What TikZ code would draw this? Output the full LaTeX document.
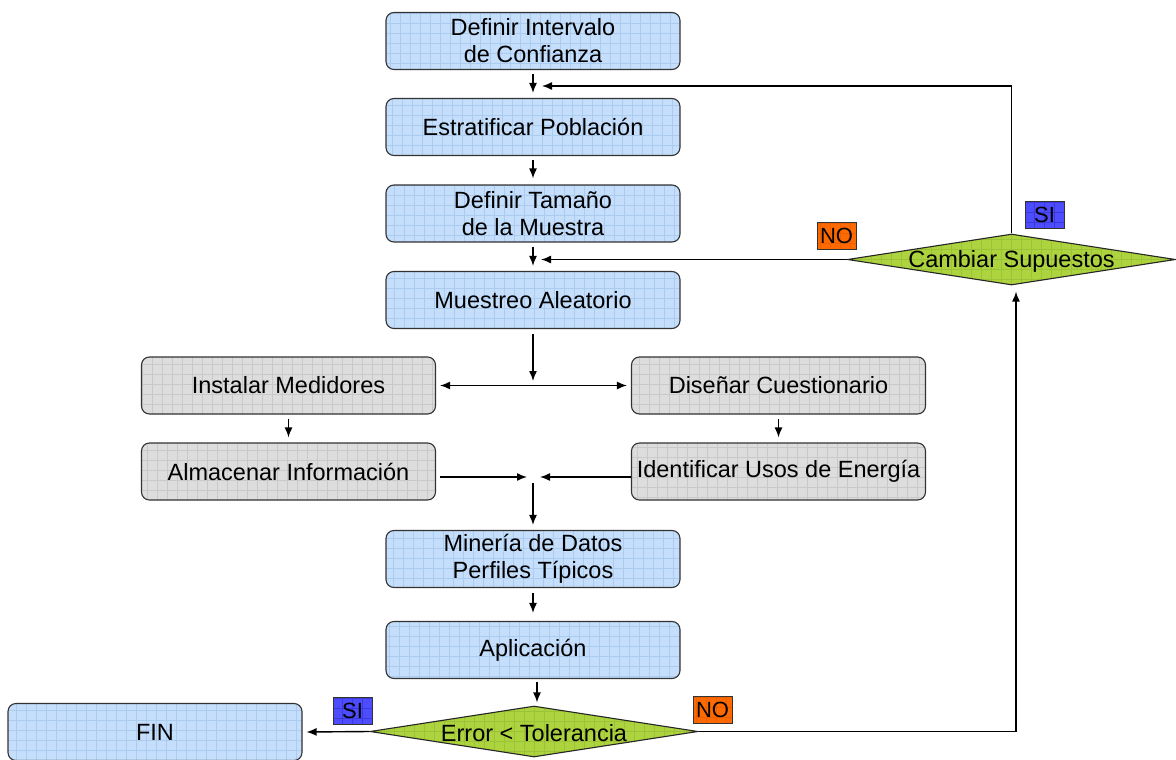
\documentclass[tikz,border=0pt]{standalone}
\usepackage{fontspec}
\setmainfont{Liberation Sans}
\usetikzlibrary{shapes.geometric,arrows.meta,calc}
\definecolor{boxblue}{HTML}{C4DEFB}
\definecolor{gridblue}{HTML}{ABCBEF}
\definecolor{boxgray}{HTML}{DDDDDD}
\definecolor{gridgray}{HTML}{C9C9C9}
\definecolor{boxgreen}{HTML}{ADD33E}
\definecolor{gridgreen}{HTML}{9CC238}
\definecolor{labblue}{HTML}{4D4DFF}
\definecolor{gridlabblue}{HTML}{3A3AD8}
\definecolor{laborange}{HTML}{FF6A00}
\definecolor{gridorange}{HTML}{EC6000}
\newcommand{\mainfs}{\fontsize{23.5}{27}\selectfont}
\tikzset{
  gridfill/.style={path picture={\draw[#1, line width=0.5pt, step=10pt]
      (path picture bounding box.south west) grid (path picture bounding box.north east);}},
  box/.style={draw=black!80, line width=1.1pt, rounded corners=8pt, minimum width=294pt,
      minimum height=57pt, align=center, inner sep=0pt, font=\mainfs},
  bluebox/.style={box, fill=boxblue, gridfill=gridblue},
  graybox/.style={box, fill=boxgray, gridfill=gridgray},
  decision/.style={diamond, draw=black!85, line width=1.1pt, fill=boxgreen, gridfill=gridgreen,
      minimum width=328pt, minimum height=51pt, inner sep=0pt, aspect=6.4,
      label={[font=\mainfs, yshift=-2pt]center:#1}},
  lab/.style={draw=black!80, line width=0.8pt, minimum width=39pt, minimum height=27pt,
      inner sep=0pt, font=\fontsize{22}{24}\selectfont},
  sil/.style={lab, fill=labblue, gridfill=gridlabblue},
  nol/.style={lab, fill=laborange, gridfill=gridorange},
  arr/.style={draw=black, line width=1.4pt, -{Latex[length=10pt,width=8pt]}},
  arrr/.style={draw=black, line width=1.4pt, {Latex[length=10pt,width=8pt]}-{Latex[length=10pt,width=8pt]}},
}
\begin{document}
\begin{tikzpicture}[x=1pt,y=-1pt]
\useasboundingbox (0,0) rectangle (1176,760);
% boxes
\node[bluebox] (b1) at (533,41) {Definir Intervalo\\ de Confianza};
\node[bluebox] (b2) at (533,127) {Estratificar Población};
\node[bluebox] (b3) at (533,213.5) {Definir Tamaño\\ de la Muestra};
\node[bluebox] (b4) at (533,300) {Muestreo Aleatorio};
\node[graybox] (b5) at (288.5,385.5) {Instalar Medidores};
\node[graybox] (b6) at (778.5,385.5) {Diseñar Cuestionario};
\node[graybox] (b7) at (288.5,471.5) {Almacenar Información};
\node[graybox] (b8) at (778.5,471.5) {Identificar Usos de Energía};
\node[bluebox] (b9) at (533,559) {Minería de Datos\\ Perfiles Típicos};
\node[bluebox] (b10) at (533,650) {Aplicación};
\node[bluebox] (fin) at (155,732) {FIN};
\node[decision={Error < Tolerancia}] (e) at (534,731.5) {};
\node[decision={Cambiar Supuestos}] (cs) at (1011.5,259.5) {};
% labels
\node[sil] (si1) at (352.5,710.5) {SI};
\node[nol] (no1) at (712.5,710) {NO};
\node[nol] (no2) at (836.5,235.5) {NO};
\node[sil] (si2) at (1044.5,214.5) {SI};
% junction points
\coordinate (j1) at (533,86);
\coordinate (j2) at (533,259.5);
\coordinate (j3) at (533,386);
\coordinate (j4) at (533,477);
% connectors
\draw[arr] ($(b1.south)+(0,4)$) -- ($(b2.north)+(0,-5)$);
\draw[arr] (cs.north) |- ($(j1)+(9,0)$);
\draw[arr] ($(b2.south)+(0,4)$) -- ($(b3.north)+(0,-6)$);
\draw[arr] ($(b3.south)+(0,4)$) -- ($(b4.north)+(0,-5)$);
\draw[arr] (cs.west) -- ($(j2)+(8,0)$);
\draw[arr] ($(b4.south)+(0,5)$) -- ($(j3)+(0,-5)$);
\draw[arrr] ($(b5.east)+(4,0)$) -- ($(b6.west)+(-4,0)$);
\draw[arr] ($(b5.south)+(0,4)$) -- ($(b7.north)+(0,-5)$);
\draw[arr] ($(b6.south)+(0,4)$) -- ($(b8.north)+(0,-5)$);
\draw[arr] ($(b7.east |- j4)+(4,0)$) -- ($(j4)+(-6,0)$);
\draw[arr] ($(b8.west |- j4)+(0,0)$) -- ($(j4)+(7,0)$);
\draw[arr] ($(j4)+(0,6)$) -- ($(b9.north)+(0,-5)$);
\draw[arr] ($(b9.south)+(0,5)$) -- ($(b10.north)+(0,-8)$);
\draw[arr] ($(b10.south)+(4,3)$) -- ($(e.north)+(3,-3)$);
\draw[arr] (e.west) -- ($(fin.east)+(4,0)$);
\draw[arr] (e.east) -| ($(cs.south)+(4.5,6)$);
\end{tikzpicture}
\end{document}
